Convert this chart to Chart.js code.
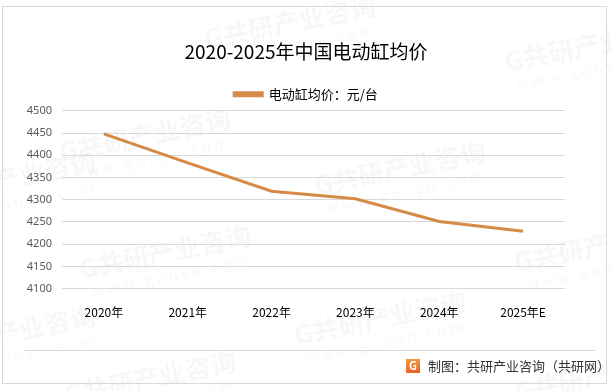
<!DOCTYPE html>
<html>
<head>
<meta charset="utf-8">
<script src="https://cdn.jsdelivr.net/npm/chart.js@4"></script>
<style>
  html, body { margin: 0; padding: 0; background: #fff; }
  #wrap { width: 612px; height: 391px; }
</style>
</head>
<body>
<div id="wrap"><canvas id="myChart" width="612" height="391"></canvas></div>
<script>
const years = ['2020年', '2021年', '2022年', '2023年', '2024年', '2025年E']
const avgPrice = [4448, 4383, 4319, 4302, 4251, 4229]
const seriesName = '电动缸均价：元/台'
const chartTitle = '2020-2025年中国电动缸均价'
const footText = '制图：共研产业咨询（共研网）'

const cjk = '"Noto Sans CJK SC", "Noto Sans", sans-serif'
const lineColor = '#D58A48'

// faint watermark + frame + footer
const decor = {
    id: 'decor',
    beforeDraw(chart) {
        const c = chart.ctx
        c.save()
        c.fillStyle = '#fff'
        c.fillRect(0, 0, chart.width, chart.height)
        const spots = [[145, 135], [400, 168], [590, 45], [165, 252], [380, 318], [600, 245], [10, 178], [10, 332], [290, 22], [150, 378], [600, 375]]
        spots.forEach(p => {
            c.save()
            c.translate(p[0], p[1])
            c.rotate(-0.2)
            c.fillStyle = 'rgba(0,0,0,0.03)'
            c.font = 'bold 26px ' + cjk
            c.textAlign = 'center'
            c.textBaseline = 'middle'
            c.fillText('G共研产业咨询', 0, 0)
            c.font = '15px ' + cjk
            c.fillText('w w w . g o n y n . c o m', 0, 24)
            c.restore()
        })
        c.restore()
    },
    afterDraw(chart) {
        const c = chart.ctx
        c.save()
        c.strokeStyle = '#d9d9d9'
        c.lineWidth = 1
        c.strokeRect(2.5, 6.5, 604, 377)
        c.beginPath()
        c.moveTo(24, 350.5)
        c.lineTo(595, 350.5)
        c.stroke()
        // logo
        const g = c.createLinearGradient(0, 359, 0, 373)
        g.addColorStop(0, '#F39A3C')
        g.addColorStop(1, '#E8622A')
        c.fillStyle = g
        c.fillRect(406, 359, 14, 14)
        c.fillStyle = '#fff'
        c.font = 'bold 11px ' + cjk
        c.textAlign = 'center'
        c.textBaseline = 'middle'
        c.fillText('G', 413, 366)
        c.fillStyle = '#333'
        c.font = '13px ' + cjk
        c.textAlign = 'left'
        c.fillText(footText, 428, 366)
        c.restore()
    }
}

const ctx = document.getElementById('myChart')

const data = {
    labels: years,
    datasets: [{
        label: seriesName,
        data: avgPrice,
        borderColor: lineColor,
        backgroundColor: lineColor,
        borderWidth: 3,
        pointRadius: 0,
        tension: 0
    }]
}

const config = {
    type: 'line',
    data: data,
    options: {
        responsive: false,
        animation: false,
        layout: { padding: { top: 40, right: 0, bottom: 54, left: 0 } },
        plugins: {
            title: {
                display: true,
                text: chartTitle,
                color: '#000',
                font: { family: cjk, size: 19, weight: 'normal' },
                padding: { top: 0, bottom: 19 }
            },
            legend: {
                display: true,
                labels: {
                    color: '#000',
                    font: { family: cjk, size: 13 },
                    boxWidth: 28,
                    boxHeight: 3,
                    padding: 6
                }
            },
            tooltip: { enabled: false }
        },
        scales: {
            x: {
                offset: true,
                grid: { display: false, drawTicks: false },
                border: { display: false },
                ticks: {
                    color: '#000',
                    font: { family: cjk, size: 12 },
                    padding: 17,
                    maxRotation: 0
                }
            },
            y: {
                min: 4100,
                max: 4500,
                afterFit(scale) { scale.width = 62 },
                grid: { color: '#d9d9d9', drawTicks: false },
                border: { display: false },
                ticks: {
                    stepSize: 50,
                    color: '#595959',
                    font: { family: '"Noto Sans", sans-serif', size: 11 },
                    padding: 10,
                    callback: v => String(v)
                }
            },
            // empty right axis, only keeps space on the right side
            yRight: {
                position: 'right',
                afterFit(scale) { scale.width = 47 },
                grid: { display: false, drawTicks: false },
                border: { display: false },
                ticks: { display: false }
            }
        }
    },
    plugins: [decor]
}

const myChart = new Chart(ctx, config)
</script>
</body>
</html>
